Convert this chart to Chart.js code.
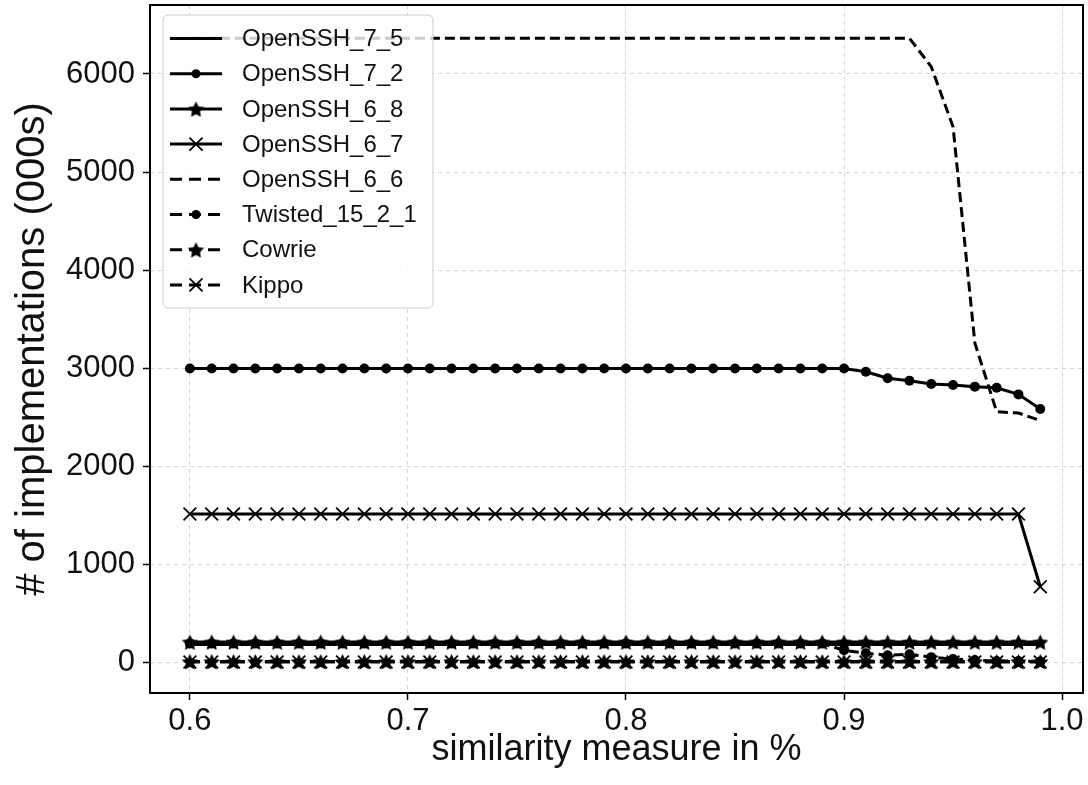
<!DOCTYPE html>
<html>
<head>
<meta charset="utf-8">
<script src="https://cdn.jsdelivr.net/npm/chart.js@4.4.1/dist/chart.umd.min.js"></script>
<style>
  html, body { margin: 0; padding: 0; background: #fff; }
  #wrap { width: 1088px; height: 785px; }
</style>
</head>
<body>
<div id="wrap"><canvas id="simChart" width="1088" height="785"></canvas></div>
<script>
// similarity threshold (x axis)
const similarity = [
  0.60, 0.61, 0.62, 0.63, 0.64, 0.65, 0.66, 0.67, 0.68, 0.69,
  0.70, 0.71, 0.72, 0.73, 0.74, 0.75, 0.76, 0.77, 0.78, 0.79,
  0.80, 0.81, 0.82, 0.83, 0.84, 0.85, 0.86, 0.87, 0.88, 0.89,
  0.90, 0.91, 0.92, 0.93, 0.94, 0.95, 0.96, 0.97, 0.98, 0.99
];
const xTicks = [0.6, 0.7, 0.8, 0.9, 1.0];
const yTicks = [0, 1000, 2000, 3000, 4000, 5000, 6000];

// # of implementations (000s)
const openssh75 = [
  180, 180, 180, 180, 180, 180, 180, 180, 180, 180,
  180, 180, 180, 180, 180, 180, 180, 180, 180, 180,
  180, 180, 180, 180, 180, 180, 180, 180, 180, 180,
  180, 180, 180, 180, 180, 180, 180, 180, 180, 180
];
const openssh72 = [
  2995, 2995, 2995, 2995, 2995, 2995, 2995, 2995, 2995, 2995,
  2995, 2995, 2995, 2995, 2995, 2995, 2995, 2995, 2995, 2995,
  2995, 2995, 2995, 2995, 2995, 2995, 2995, 2995, 2995, 2995,
  2995, 2962, 2895, 2871, 2837, 2827, 2810, 2799, 2731, 2582
];
const openssh68 = [
  205, 205, 205, 205, 205, 205, 205, 205, 205, 205,
  205, 205, 205, 205, 205, 205, 205, 205, 205, 205,
  205, 205, 205, 205, 205, 205, 205, 205, 205, 205,
  205, 205, 205, 205, 205, 205, 205, 205, 205, 205
];
const openssh67 = [
  1510, 1510, 1510, 1510, 1510, 1510, 1510, 1510, 1510, 1510,
  1510, 1510, 1510, 1510, 1510, 1510, 1510, 1510, 1510, 1510,
  1510, 1510, 1510, 1510, 1510, 1510, 1510, 1510, 1510, 1510,
  1510, 1510, 1510, 1510, 1510, 1510, 1510, 1510, 1510, 768
];
const openssh66 = [
  6365, 6365, 6365, 6365, 6365, 6365, 6365, 6365, 6365, 6365,
  6365, 6365, 6365, 6365, 6365, 6365, 6365, 6365, 6365, 6365,
  6365, 6365, 6365, 6365, 6365, 6365, 6365, 6365, 6365, 6365,
  6365, 6365, 6365, 6365, 6074, 5462, 3255, 2554, 2540, 2465
];
const twisted = [
  190, 190, 190, 190, 190, 190, 190, 190, 190, 190,
  190, 190, 190, 190, 190, 190, 190, 190, 190, 190,
  190, 190, 190, 190, 190, 190, 190, 190, 190, 190,
  120, 90, 70, 80, 50, 30, 20, 10, 10, 5
];
const cowrie = [
  5, 5, 5, 5, 5, 5, 5, 5, 5, 5,
  5, 5, 5, 5, 5, 5, 5, 5, 5, 5,
  5, 5, 5, 5, 5, 5, 5, 5, 5, 5,
  5, 5, 5, 5, 5, 5, 5, 5, 5, 5
];
const kippo = [
  0, 0, 0, 0, 0, 0, 0, 0, 0, 0,
  0, 0, 0, 0, 0, 0, 0, 0, 0, 0,
  0, 0, 0, 0, 0, 0, 0, 0, 0, 0,
  0, 0, 0, 0, 0, 0, 0, 0, 0, 0
];

const FONT = "'Liberation Sans', Arial, sans-serif";

// filled five point star, like matplotlib's '*'
function makeStar(size) {
  const c = document.createElement('canvas');
  c.width = size; c.height = size;
  const g = c.getContext('2d');
  const cx = size / 2, cy = size / 2 + 1, R = size / 2, r = R * 0.5;
  g.beginPath();
  for (let k = 0; k < 10; k++) {
    const rad = k % 2 ? r : R;
    const a = -Math.PI / 2 + k * Math.PI / 5;
    g.lineTo(cx + rad * Math.cos(a), cy + rad * Math.sin(a));
  }
  g.closePath();
  g.fillStyle = '#000';
  g.fill();
  return c;
}
const starImg = makeStar(17);

const DASH = [10, 5];
const series = [
  { name: 'OpenSSH_7_5', values: openssh75, dash: [], marker: 'none' },
  { name: 'OpenSSH_7_2', values: openssh72, dash: [], marker: 'circle' },
  { name: 'OpenSSH_6_8', values: openssh68, dash: [], marker: 'star' },
  { name: 'OpenSSH_6_7', values: openssh67, dash: [], marker: 'x' },
  { name: 'OpenSSH_6_6', values: openssh66, dash: DASH, marker: 'none' },
  { name: 'Twisted_15_2_1', values: twisted, dash: DASH, marker: 'circle' },
  { name: 'Cowrie', values: cowrie, dash: DASH, marker: 'star' },
  { name: 'Kippo', values: kippo, dash: DASH, marker: 'x' }
];

function markerOpts(m) {
  if (m === 'circle') return { pointStyle: 'circle', pointRadius: 5, pointBorderWidth: 0 };
  if (m === 'star') return { pointStyle: starImg, pointRadius: 8, pointBorderWidth: 0 };
  if (m === 'x') return { pointStyle: 'crossRot', pointRadius: 9, pointBorderWidth: 1.8 };
  return { pointRadius: 0 };
}

const datasets = series.map((s, i) => Object.assign({
  label: s.name,
  data: s.values.map((v, j) => ({ x: similarity[j], y: v })),
  borderColor: '#000',
  backgroundColor: '#000',
  pointBackgroundColor: '#000',
  pointBorderColor: '#000',
  borderWidth: 3,
  borderDash: s.dash,
  tension: 0,
  fill: false,
  order: series.length - i
}, markerOpts(s.marker)));

function drawMarker(ctx, m, x, y) {
  ctx.save();
  ctx.fillStyle = '#000';
  ctx.strokeStyle = '#000';
  ctx.setLineDash([]);
  if (m === 'circle') {
    ctx.beginPath(); ctx.arc(x, y, 4.5, 0, Math.PI * 2); ctx.fill();
  } else if (m === 'star') {
    ctx.drawImage(starImg, x - starImg.width / 2, y - starImg.height / 2);
  } else if (m === 'x') {
    const d = 6.5;
    ctx.lineWidth = 1.8;
    ctx.beginPath();
    ctx.moveTo(x - d, y - d); ctx.lineTo(x + d, y + d);
    ctx.moveTo(x - d, y + d); ctx.lineTo(x + d, y - d);
    ctx.stroke();
  }
  ctx.restore();
}

// axes frame plus the matplotlib style legend box
const framePlugin = {
  id: 'frameAndLegend',
  afterDraw(chart) {
    const { ctx, chartArea: a } = chart;
    ctx.save();
    ctx.strokeStyle = '#000';
    ctx.lineWidth = 2;
    ctx.strokeRect(a.left, a.top, a.right - a.left, a.bottom - a.top);

    const bx = 163, by = 15, bw = 270, bh = 293;
    ctx.beginPath();
    ctx.roundRect(bx, by, bw, bh, 5);
    ctx.fillStyle = 'rgba(255,255,255,0.8)';
    ctx.fill();
    ctx.strokeStyle = '#cccccc';
    ctx.lineWidth = 1;
    ctx.stroke();

    ctx.font = '24px ' + FONT;
    ctx.textBaseline = 'middle';
    ctx.textAlign = 'left';
    series.forEach((s, i) => {
      const y = 38.5 + i * 35.2;
      ctx.save();
      ctx.strokeStyle = '#000';
      ctx.lineWidth = 3;
      ctx.setLineDash(s.dash.length ? [12, 7] : []);
      ctx.beginPath();
      ctx.moveTo(170, y); ctx.lineTo(222, y);
      ctx.stroke();
      ctx.restore();
      drawMarker(ctx, s.marker, 196, y);
      ctx.fillStyle = '#111';
      ctx.fillText(s.name, 242, y + 1);
    });
    ctx.restore();
  }
};

const ctx = document.getElementById('simChart').getContext('2d');
new Chart(ctx, {
  type: 'line',
  data: { datasets: datasets },
  options: {
    responsive: false,
    animation: false,
    devicePixelRatio: 1,
    layout: { autoPadding: false, padding: { top: 5, right: 5, left: 0, bottom: 0 } },
    plugins: { legend: { display: false }, tooltip: { enabled: false } },
    scales: {
      x: {
        type: 'linear',
        min: 0.5817,
        max: 1.0096,
        afterBuildTicks: (scale) => { scale.ticks = xTicks.map(v => ({ value: v })); },
        afterFit: (scale) => { scale.height = 92; scale.paddingLeft = 0; scale.paddingRight = 0; },
        ticks: {
          color: '#111',
          font: { family: FONT, size: 31 },
          padding: 3,
          maxRotation: 0,
          autoSkip: false,
          callback: (v) => Number(v).toFixed(1)
        },
        grid: { color: '#d4d4d4', lineWidth: 1, tickColor: '#000', tickLength: 7, tickWidth: 1.5, tickBorderDash: [] },
        border: { display: false, dash: [4, 4] },
        title: { display: true, text: 'similarity measure in %', color: '#111',
                 font: { family: FONT, size: 36 }, padding: { top: 0, bottom: 13 } }
      },
      y: {
        type: 'linear',
        min: -316,
        max: 6704,
        afterBuildTicks: (scale) => { scale.ticks = yTicks.map(v => ({ value: v })); },
        afterFit: (scale) => { scale.width = 150; scale.paddingTop = 0; scale.paddingBottom = 0; },
        ticks: {
          color: '#111',
          font: { family: FONT, size: 31 },
          padding: 8,
          autoSkip: false,
          callback: (v) => String(v)
        },
        grid: { color: '#d4d4d4', lineWidth: 1, tickColor: '#000', tickLength: 7, tickWidth: 1.5, tickBorderDash: [] },
        border: { display: false, dash: [4, 4] },
        title: { display: true, text: '# of implementations (000s)', color: '#111',
                 font: { family: FONT, size: 40 }, padding: { top: 9, bottom: 0 } }
      }
    }
  },
  plugins: [framePlugin]
});
</script>
</body>
</html>
